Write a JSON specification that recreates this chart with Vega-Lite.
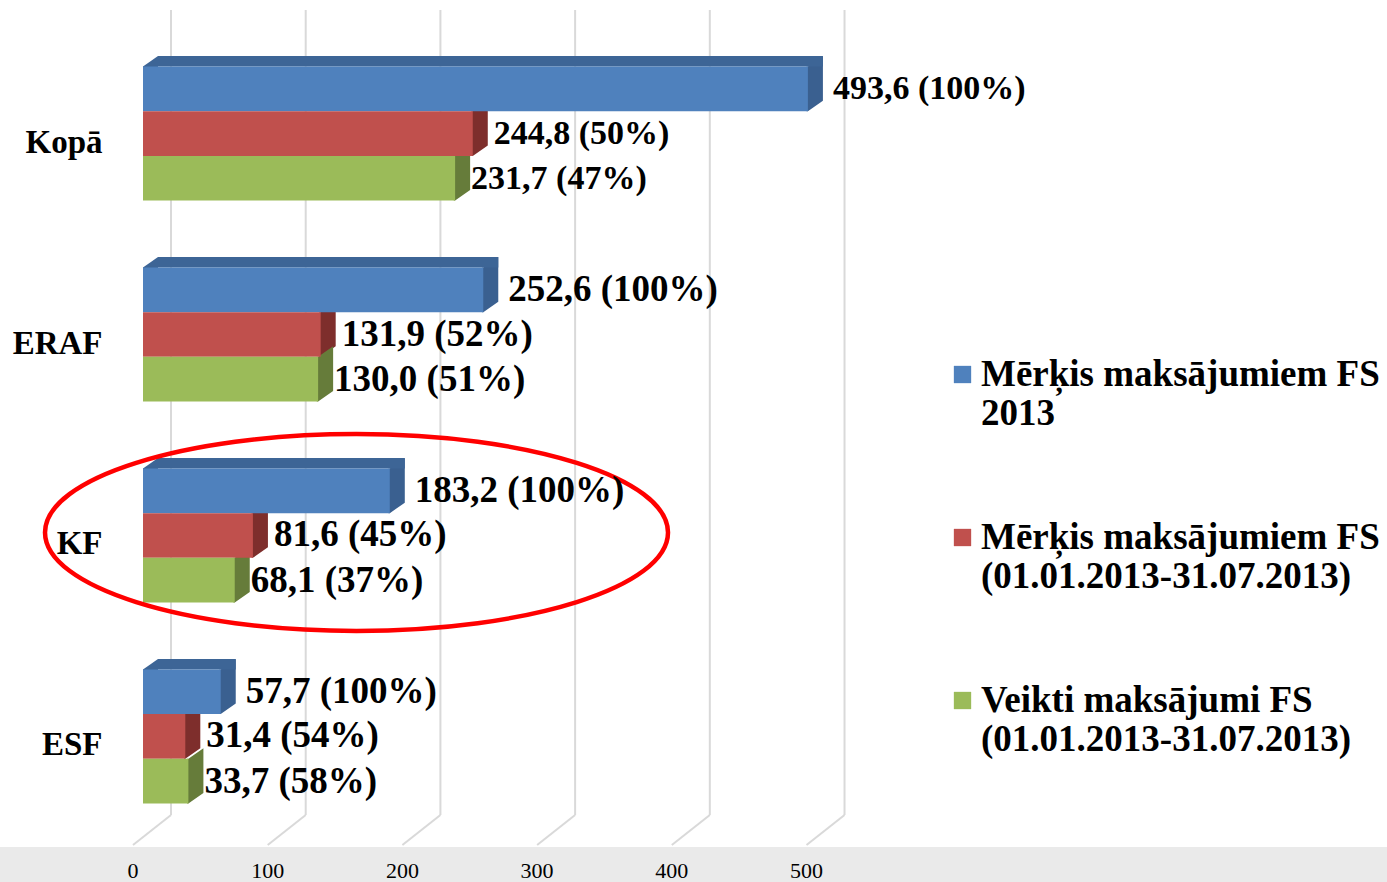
{
  "$schema": "https://vega.github.io/schema/vega-lite/v6.json",
  "width": 1387,
  "height": 870,
  "padding": {"left": 0, "top": 0, "right": 0, "bottom": 12},
  "autosize": "none",
  "background": "white",
  "config": {
    "view": {"stroke": null},
    "axisX": {"domain": false, "labels": false, "ticks": false, "grid": false},
    "axisY": {"domain": false, "ticks": false, "grid": false, "labelFont": "Liberation Serif", "labelFontSize": 33, "labelFontWeight": "bold", "labelColor": "black", "labelPadding": -102, "labelOffset": 9, "labelAlign": "right"},
    "legend": {"labelFont": "Liberation Serif", "labelFontSize": 37, "labelFontWeight": "bold", "labelColor": "black", "labelLineHeight": 41, "labelLimit": 1000, "labelOffset": 0, "symbolType": "square", "symbolSize": 300, "symbolStrokeWidth": 0, "rowPadding": 86, "padding": 0}
  },
  "datasets": {
    "bars": [
      {"fund": "Kopā", "series": "Mērķis maksājumiem FS 2013", "value": 493.6, "pct": 100},
      {"fund": "Kopā", "series": "Mērķis maksājumiem FS (01.01.2013-31.07.2013)", "value": 244.8, "pct": 50},
      {"fund": "Kopā", "series": "Veikti maksājumi FS (01.01.2013-31.07.2013)", "value": 231.7, "pct": 47},
      {"fund": "ERAF", "series": "Mērķis maksājumiem FS 2013", "value": 252.6, "pct": 100},
      {"fund": "ERAF", "series": "Mērķis maksājumiem FS (01.01.2013-31.07.2013)", "value": 131.9, "pct": 52},
      {"fund": "ERAF", "series": "Veikti maksājumi FS (01.01.2013-31.07.2013)", "value": 130.0, "pct": 51},
      {"fund": "KF", "series": "Mērķis maksājumiem FS 2013", "value": 183.2, "pct": 100},
      {"fund": "KF", "series": "Mērķis maksājumiem FS (01.01.2013-31.07.2013)", "value": 81.6, "pct": 45},
      {"fund": "KF", "series": "Veikti maksājumi FS (01.01.2013-31.07.2013)", "value": 68.1, "pct": 37},
      {"fund": "ESF", "series": "Mērķis maksājumiem FS 2013", "value": 57.7, "pct": 100},
      {"fund": "ESF", "series": "Mērķis maksājumiem FS (01.01.2013-31.07.2013)", "value": 31.4, "pct": 54},
      {"fund": "ESF", "series": "Veikti maksājumi FS (01.01.2013-31.07.2013)", "value": 33.7, "pct": 58}
    ],
    "grid": [{"tick": 0}, {"tick": 100}, {"tick": 200}, {"tick": 300}, {"tick": 400}, {"tick": 500}]
  },
  "data": {"name": "bars"},
  "layer": [
    {
      "data": {"values": [{"floor": "floor"}]},
      "mark": {"type": "rule", "color": "#EAEAEA", "strokeWidth": 35, "strokeCap": "butt", "yOffset": 128.1},
      "encoding": {
        "x": {"datum": -106.16, "type": "quantitative", "title": null, "scale": {"domain": [-106.16, 923.5], "zero": false, "nice": false}},
        "x2": {"datum": 923.5},
        "y": {"datum": "ESF", "type": "nominal", "title": null, "scale": {"domain": ["Kopā", "ERAF", "KF", "ESF"], "paddingInner": 0.333, "paddingOuter": 0.331}}
      }
    },
    {
      "data": {"name": "grid"},
      "mark": {"type": "text", "align": "center", "baseline": "middle", "dx": -10, "yOffset": 134.5, "font": "Liberation Serif", "fontSize": 22, "color": "black"},
      "encoding": {
        "x": {"field": "tick", "type": "quantitative", "title": null, "scale": {"domain": [-106.16, 923.5], "zero": false, "nice": false}},
        "y": {"datum": "ESF", "type": "nominal", "title": null, "scale": {"domain": ["Kopā", "ERAF", "KF", "ESF"], "paddingInner": 0.333, "paddingOuter": 0.331}},
        "text": {"field": "tick", "type": "quantitative", "format": "d"}
      }
    },
    {
      "data": {"name": "grid"},
      "mark": {"type": "rule", "color": "#D9D9D9", "strokeWidth": 2, "xOffset": 28, "x2Offset": 28, "yOffset": -123.5, "y2Offset": 78.6},
      "encoding": {
        "x": {"field": "tick", "type": "quantitative", "title": null, "scale": {"domain": [-106.16, 923.5], "zero": false, "nice": false}},
        "x2": {"field": "tick"},
        "y": {"datum": "Kopā", "type": "nominal", "title": null, "scale": {"domain": ["Kopā", "ERAF", "KF", "ESF"], "paddingInner": 0.333, "paddingOuter": 0.331}},
        "y2": {"datum": "ESF"}
      }
    },
    {
      "data": {"name": "grid"},
      "mark": {"type": "rule", "color": "#D9D9D9", "strokeWidth": 2, "xOffset": 28, "x2Offset": -10, "yOffset": 78.6, "y2Offset": 108.6},
      "encoding": {
        "x": {"field": "tick", "type": "quantitative", "title": null, "scale": {"domain": [-106.16, 923.5], "zero": false, "nice": false}},
        "x2": {"field": "tick"},
        "y": {"datum": "ESF", "type": "nominal", "title": null, "scale": {"domain": ["Kopā", "ERAF", "KF", "ESF"], "paddingInner": 0.333, "paddingOuter": 0.331}},
        "y2": {"datum": "ESF"}
      }
    },
    {
      "mark": {"type": "point", "shape": "M-0.06,-1 L0,-1 L0.672,-1.47 L0.672,0.53 L0,1 L-0.06,1 Z", "size": 1995, "filled": true, "opacity": 1, "strokeWidth": 0},
      "encoding": {
        "x": {"field": "value", "type": "quantitative", "title": null, "scale": {"domain": [-106.16, 923.5], "zero": false, "nice": false}},
        "y": {"field": "fund", "type": "nominal", "title": null, "sort": null, "scale": {"domain": ["Kopā", "ERAF", "KF", "ESF"], "paddingInner": 0.333, "paddingOuter": 0.331}},
        "yOffset": {"field": "series", "type": "nominal", "sort": null, "scale": {"domain": ["Mērķis maksājumiem FS 2013", "Mērķis maksājumiem FS (01.01.2013-31.07.2013)", "Veikti maksājumi FS (01.01.2013-31.07.2013)"]}},
        "fill": {"condition": [{"test": "datum.series == 'Mērķis maksājumiem FS 2013'", "value": "#3A6090"}, {"test": "datum.series == 'Mērķis maksājumiem FS (01.01.2013-31.07.2013)'", "value": "#7E2E2C"}], "value": "#667C3A"}
      }
    },
    {
      "transform": [{"filter": "datum.series == 'Mērķis maksājumiem FS 2013'"}],
      "mark": {"type": "rule", "color": "#3D6596", "strokeWidth": 10.5, "strokeCap": "butt", "xOffset": 15, "x2Offset": 15, "yOffset": -72.25},
      "encoding": {
        "x": {"field": "value", "type": "quantitative", "title": null, "scale": {"domain": [-106.16, 923.5], "zero": false, "nice": false}},
        "x2": {"datum": 0},
        "y": {"field": "fund", "type": "nominal", "title": null, "sort": null, "scale": {"domain": ["Kopā", "ERAF", "KF", "ESF"], "paddingInner": 0.333, "paddingOuter": 0.331}}
      }
    },
    {
      "transform": [{"filter": "datum.series == 'Mērķis maksājumiem FS 2013'"}],
      "mark": {"type": "point", "shape": "M0,-1 L0.672,-1.47 L0.672,-0.9 L0,-0.9 Z", "size": 1995, "filled": true, "opacity": 1, "strokeWidth": 0, "color": "#3D6596"},
      "encoding": {
        "x": {"datum": 0, "type": "quantitative", "scale": {"domain": [-106.16, 923.5], "zero": false, "nice": false}},
        "y": {"field": "fund", "type": "nominal", "title": null, "sort": null, "scale": {"domain": ["Kopā", "ERAF", "KF", "ESF"], "paddingInner": 0.333, "paddingOuter": 0.331}},
        "yOffset": {"field": "series", "type": "nominal", "sort": null, "scale": {"domain": ["Mērķis maksājumiem FS 2013", "Mērķis maksājumiem FS (01.01.2013-31.07.2013)", "Veikti maksājumi FS (01.01.2013-31.07.2013)"]}}
      }
    },
    {
      "mark": {"type": "bar"},
      "encoding": {
        "x": {"field": "value", "type": "quantitative", "title": null, "scale": {"domain": [-106.16, 923.5], "zero": false, "nice": false}},
        "x2": {"datum": 0},
        "y": {"field": "fund", "type": "nominal", "title": null, "sort": null, "scale": {"domain": ["Kopā", "ERAF", "KF", "ESF"], "paddingInner": 0.333, "paddingOuter": 0.331}},
        "yOffset": {"field": "series", "type": "nominal", "sort": null, "scale": {"domain": ["Mērķis maksājumiem FS 2013", "Mērķis maksājumiem FS (01.01.2013-31.07.2013)", "Veikti maksājumi FS (01.01.2013-31.07.2013)"]}},
        "color": {"field": "series", "type": "nominal", "scale": {"domain": ["Mērķis maksājumiem FS 2013", "Mērķis maksājumiem FS (01.01.2013-31.07.2013)", "Veikti maksājumi FS (01.01.2013-31.07.2013)"], "range": ["#4F81BD", "#C0504D", "#9BBB59"]}, "legend": {"orient": "none", "legendX": 944, "legendY": 356, "title": null, "labelExpr": "[slice(datum.label, 0, indexof(datum.label, 'FS') + 2), slice(datum.label, indexof(datum.label, 'FS') + 3)]"}}
      }
    },
    {
      "data": {"values": [{"fund": "KF", "center": 158.5}]},
      "mark": {"type": "point", "shape": "M1,0 C1,0.1746 0.5523,0.316 0,0.316 C-0.5523,0.316 -1,0.1746 -1,0 C-1,-0.1746 -0.5523,-0.316 0,-0.316 C0.5523,-0.316 1,-0.1746 1,0 Z", "size": 388129, "filled": false, "stroke": "#FF0000", "strokeWidth": 4.5, "opacity": 1, "yOffset": -3},
      "encoding": {
        "x": {"field": "center", "type": "quantitative", "title": null, "scale": {"domain": [-106.16, 923.5], "zero": false, "nice": false}},
        "y": {"field": "fund", "type": "nominal", "title": null, "sort": null, "scale": {"domain": ["Kopā", "ERAF", "KF", "ESF"], "paddingInner": 0.333, "paddingOuter": 0.331}}
      }
    },
    {
      "transform": [
        {"filter": "datum.series == 'Mērķis maksājumiem FS 2013'"},
        {"calculate": "replace(format(datum.value, '.1f'), '.', ',') + ' (' + datum.pct + '%)'", "as": "label"}
      ],
      "mark": {"type": "text", "align": "left", "baseline": "middle", "dx": 25, "font": "Liberation Serif", "fontWeight": "bold", "color": "black"},
      "encoding": {
        "x": {"field": "value", "type": "quantitative", "title": null, "scale": {"domain": [-106.16, 923.5], "zero": false, "nice": false}},
        "y": {"field": "fund", "type": "nominal", "title": null, "sort": null, "scale": {"domain": ["Kopā", "ERAF", "KF", "ESF"], "paddingInner": 0.333, "paddingOuter": 0.331}},
        "yOffset": {"field": "series", "type": "nominal", "sort": null, "scale": {"domain": ["Mērķis maksājumiem FS 2013", "Mērķis maksājumiem FS (01.01.2013-31.07.2013)", "Veikti maksājumi FS (01.01.2013-31.07.2013)"]}},
        "size": {"condition": {"test": "datum.fund == 'Kopā'", "value": 34}, "value": 37},
        "text": {"field": "label", "type": "nominal"}
      }
    },
    {
      "transform": [
        {"filter": "datum.series == 'Mērķis maksājumiem FS (01.01.2013-31.07.2013)'"},
        {"calculate": "replace(format(datum.value, '.1f'), '.', ',') + ' (' + datum.pct + '%)'", "as": "label"}
      ],
      "mark": {"type": "text", "align": "left", "baseline": "middle", "dx": 21, "font": "Liberation Serif", "fontWeight": "bold", "color": "black"},
      "encoding": {
        "x": {"field": "value", "type": "quantitative", "title": null, "scale": {"domain": [-106.16, 923.5], "zero": false, "nice": false}},
        "y": {"field": "fund", "type": "nominal", "title": null, "sort": null, "scale": {"domain": ["Kopā", "ERAF", "KF", "ESF"], "paddingInner": 0.333, "paddingOuter": 0.331}},
        "yOffset": {"field": "series", "type": "nominal", "sort": null, "scale": {"domain": ["Mērķis maksājumiem FS 2013", "Mērķis maksājumiem FS (01.01.2013-31.07.2013)", "Veikti maksājumi FS (01.01.2013-31.07.2013)"]}},
        "size": {"condition": {"test": "datum.fund == 'Kopā'", "value": 34}, "value": 37},
        "text": {"field": "label", "type": "nominal"}
      }
    },
    {
      "transform": [
        {"filter": "datum.series == 'Veikti maksājumi FS (01.01.2013-31.07.2013)'"},
        {"calculate": "replace(format(datum.value, '.1f'), '.', ',') + ' (' + datum.pct + '%)'", "as": "label"}
      ],
      "mark": {"type": "text", "align": "left", "baseline": "middle", "dx": 16, "dy": 1, "font": "Liberation Serif", "fontWeight": "bold", "color": "black"},
      "encoding": {
        "x": {"field": "value", "type": "quantitative", "title": null, "scale": {"domain": [-106.16, 923.5], "zero": false, "nice": false}},
        "y": {"field": "fund", "type": "nominal", "title": null, "sort": null, "scale": {"domain": ["Kopā", "ERAF", "KF", "ESF"], "paddingInner": 0.333, "paddingOuter": 0.331}},
        "yOffset": {"field": "series", "type": "nominal", "sort": null, "scale": {"domain": ["Mērķis maksājumiem FS 2013", "Mērķis maksājumiem FS (01.01.2013-31.07.2013)", "Veikti maksājumi FS (01.01.2013-31.07.2013)"]}},
        "size": {"condition": {"test": "datum.fund == 'Kopā'", "value": 34}, "value": 37},
        "text": {"field": "label", "type": "nominal"}
      }
    }
  ]
}
